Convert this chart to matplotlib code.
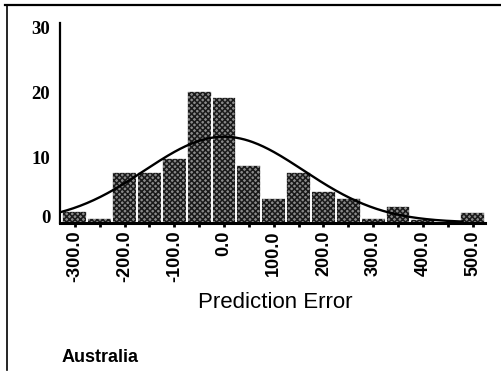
import numpy as np
import matplotlib.pyplot as plt
import matplotlib.transforms as mtransforms
from matplotlib.lines import Line2D

# histogram of prediction errors (percent per bin of width 50)
bin_centres = [-300, -250, -200, -150, -100, -50, 0, 50, 100, 150, 200, 250, 300, 350, 400, 450, 500]
percent = [1.8, 0.7, 7.8, 7.7, 9.9, 20.3, 19.3, 8.9, 3.8, 7.7, 4.85, 3.7, 0.7, 2.6, 0.5, 0.0, 1.6]
bin_width = 50

# fitted normal curve
err_mean = 0.0
err_sd = 160.0
curve_peak = 13.2

tick_values = [-300, -200, -100, 0, 100, 200, 300, 400, 500]
tick_labels = ['%.1f' % v for v in tick_values]
y_ticks = [0, 10, 20, 30]

plt.rcParams['hatch.linewidth'] = 1.1

fig = plt.figure(figsize=(5.02, 3.74), dpi=100)
ax = fig.add_axes([60/502, 151.5/374, 425/502, 199.5/374])

# hatched fill, then white outlines to leave thin gaps between bars
ax.bar(bin_centres, percent, width=bin_width, color='#8a8a8a', edgecolor='#1a1a1a',
       linewidth=0, hatch='xxxxxx', zorder=2)
ax.bar(bin_centres, percent, width=bin_width, fill=False, edgecolor='white',
       linewidth=1.2, zorder=3)

xs = np.linspace(-330, 480, 300)
ys = curve_peak * np.exp(-0.5 * ((xs - err_mean) / err_sd) ** 2)
ax.plot(xs, ys, color='black', lw=1.7, zorder=4)

ax.set_xlim(-330, 525)
ax.set_ylim(0, 30.7)

for s in ['top', 'right']:
    ax.spines[s].set_visible(False)
ax.spines['left'].set_linewidth(1.6)
ax.spines['bottom'].set_linewidth(2.2)
ax.spines['bottom'].set_zorder(5)

ax.set_xticks(tick_values)
ax.set_xticklabels(tick_labels, rotation=90, fontfamily='Liberation Sans',
                   fontweight='bold', fontsize=13)
ax.set_xticks(np.arange(-250, 501, 100), minor=True)
ax.tick_params(axis='x', which='both', length=3, width=2, pad=3)

ax.set_yticks(y_ticks)
ax.set_yticklabels([str(v) for v in y_ticks], fontfamily='Liberation Serif',
                   fontweight='bold', fontsize=13.5)
ax.tick_params(axis='y', length=0, pad=7)
# the zero label sits a little above the baseline
lbl0 = ax.get_yticklabels()[0]
lbl0.set_transform(lbl0.get_transform() + mtransforms.ScaledTranslation(0, 6/100, fig.dpi_scale_trans))

fig.text(275/502, 1 - 302/374, 'Prediction Error', ha='center', va='center',
         fontfamily='Liberation Sans', fontsize=16)
fig.text(62/502, 1 - 358/374, 'Australia', ha='left', va='center',
         fontfamily='Liberation Sans', fontweight='bold', fontsize=13)

# frame lines around the panel
fig.add_artist(Line2D([5/502, 1], [1 - 5/374, 1 - 5/374], color='black', lw=1.6))
fig.add_artist(Line2D([7/502, 7/502], [1 - 5/374, 1 - 370/374], color='black', lw=1.2))

fig.savefig('out.png', dpi=100)
